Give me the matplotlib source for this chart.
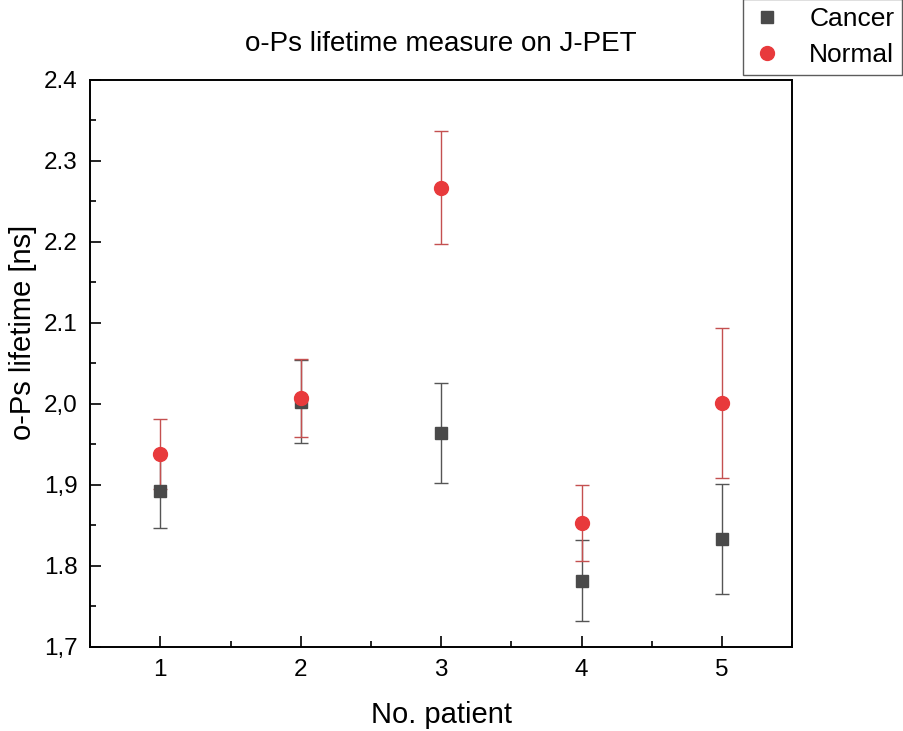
import matplotlib
matplotlib.use("Agg")
import matplotlib.pyplot as plt
from matplotlib.ticker import MultipleLocator

plt.rcParams['font.family'] = ['Liberation Sans', 'DejaVu Sans']

patients = [1, 2, 3, 4, 5]
cancer = [1.893, 2.003, 1.964, 1.782, 1.833]
cancer_err = [0.046, 0.051, 0.062, 0.050, 0.068]
normal = [1.938, 2.007, 2.267, 1.853, 2.001]
normal_err = [0.043, 0.048, 0.070, 0.047, 0.093]
ytick_vals = [1.7, 1.8, 1.9, 2.0, 2.1, 2.2, 2.3, 2.4]
ytick_labels = ['1,7', '1.8', '1,9', '2,0', '2.1', '2.2', '2.3', '2.4']

fig = plt.figure(figsize=(9.04, 7.31), dpi=100)
ax = fig.add_axes([0.0996, 0.115, 0.777, 0.7756])

# error bars first, markers on top (legend shows markers only)
ax.errorbar(patients, cancer, yerr=cancer_err, fmt='none', ecolor='#555555',
            elinewidth=1, capsize=5, capthick=1, zorder=2)
ax.errorbar(patients, normal, yerr=normal_err, fmt='none', ecolor='#c45050',
            elinewidth=1, capsize=5, capthick=1, zorder=2)
ax.plot(patients, cancer, 's', color='#4a4a4a', markersize=9, label='Cancer', zorder=3)
ax.plot(patients, normal, 'o', color='#e83a3c', markersize=10, label='Normal', zorder=4)

ax.set_xlim(0.5, 5.5)
ax.set_ylim(1.7, 2.4)
ax.set_xticks(patients)
ax.xaxis.set_minor_locator(MultipleLocator(0.5))
ax.set_yticks(ytick_vals)
ax.set_yticklabels(ytick_labels)
ax.yaxis.set_minor_locator(MultipleLocator(0.05))
ax.tick_params(which='major', direction='in', length=8, width=1.2, labelsize=17.5, pad=9)
ax.tick_params(which='minor', direction='in', length=4, width=1.2)
for s in ax.spines.values():
    s.set_linewidth(1.4)

ax.set_xlabel('No. patient', fontsize=21, labelpad=14)
ax.set_ylabel('o-Ps lifetime [ns]', fontsize=21)
ax.yaxis.set_label_coords(-0.075, 0.554)
ax.set_title('o-Ps lifetime measure on J-PET', fontsize=20, pad=21)

leg = ax.legend(loc='upper left', bbox_to_anchor=(0.93, 1.142), fontsize=19,
                frameon=True, fancybox=False, edgecolor='#333333',
                handlelength=1.2, handletextpad=1.0, borderpad=0.3,
                labelspacing=0.45, borderaxespad=0)
leg.get_frame().set_linewidth(1)

fig.savefig('out.png', dpi=100)
